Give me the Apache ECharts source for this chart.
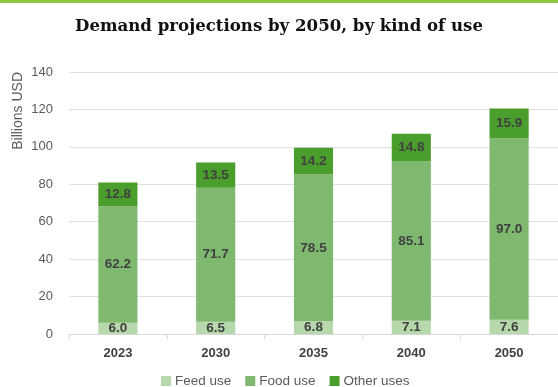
<!DOCTYPE html>
<html>
<head>
<meta charset="utf-8">
<style>
  html, body { margin: 0; padding: 0; background: #ffffff; }
  #topbar { position: absolute; left: 0; top: 0; width: 558px; height: 3px; background: #8dc63f; }
  #chart { position: absolute; left: 0; top: 0; width: 558px; height: 387px; }
</style>
<script src="https://cdn.jsdelivr.net/npm/echarts@6/dist/echarts.min.js"></script>
</head>
<body>
<div id="chart"></div>
<div id="topbar"></div>
<script>
// Demand by kind of use, billions USD
const years = ['2023', '2030', '2035', '2040', '2050'];
const feedUse = [6.0, 6.5, 6.8, 7.1, 7.6];
const foodUse = [62.2, 71.7, 78.5, 85.1, 97.0];
const otherUses = [12.8, 13.5, 14.2, 14.8, 15.9];
const yTicks = { min: 0, max: 140, interval: 20 };

const seriesDefs = [
  { name: 'Feed use', data: feedUse, color: '#b7d8ad' },
  { name: 'Food use', data: foodUse, color: '#7fb96f' },
  { name: 'Other uses', data: otherUses, color: '#4a9e2b' }
];

const sans = 'Liberation Sans';

const chart = echarts.init(document.getElementById('chart'), null, { renderer: 'canvas' });
chart.setOption({
  animation: false,
  title: {
    text: 'Demand projections by 2050, by kind of use',
    left: 274,
    textAlign: 'center',
    top: 13,
    textStyle: {
      fontFamily: 'DejaVu Serif',
      fontWeight: 'bold',
      fontSize: 16.6,
      color: '#111111'
    }
  },
  legend: {
    top: 374,
    left: 161,
    padding: 0,
    itemWidth: 10,
    itemHeight: 10,
    itemGap: 14,
    icon: 'rect',
    textStyle: { fontFamily: sans, fontSize: 13.5, color: '#595959', padding: [0, 0, 0, -1] },
    data: seriesDefs.map(s => s.name)
  },
  grid: { left: 69, top: 72, width: 492, height: 262, containLabel: false },
  xAxis: {
    type: 'category',
    data: years,
    axisLine: { lineStyle: { color: '#d9d9d9' } },
    axisTick: { show: true, alignWithLabel: false, length: 5, lineStyle: { color: '#d9d9d9' } },
    axisLabel: { fontFamily: sans, fontWeight: 'bold', fontSize: 13, color: '#404040', margin: 13 }
  },
  yAxis: {
    type: 'value',
    min: yTicks.min,
    max: yTicks.max,
    interval: yTicks.interval,
    name: 'Billions USD',
    nameLocation: 'end',
    nameRotate: 90,
    nameGap: 0,
    nameTextStyle: { fontFamily: sans, fontSize: 14, color: '#595959', align: 'right', verticalAlign: 'bottom', padding: [0, 0, 44, 0] },
    axisLine: { show: false },
    axisTick: { show: false },
    axisLabel: { fontFamily: sans, fontSize: 13, color: '#595959', margin: 16 },
    splitLine: { lineStyle: { color: '#e0e0e0' } }
  },
  series: seriesDefs.map(s => ({
    name: s.name,
    type: 'bar',
    stack: 'total',
    barWidth: '40%',
    data: s.data,
    itemStyle: { color: s.color },
    label: {
      show: true,
      position: 'inside',
      formatter: p => p.value.toFixed(1),
      fontFamily: sans,
      fontWeight: 'bold',
      fontSize: 13.5,
      color: '#404040'
    }
  }))
});
</script>
</body>
</html>
